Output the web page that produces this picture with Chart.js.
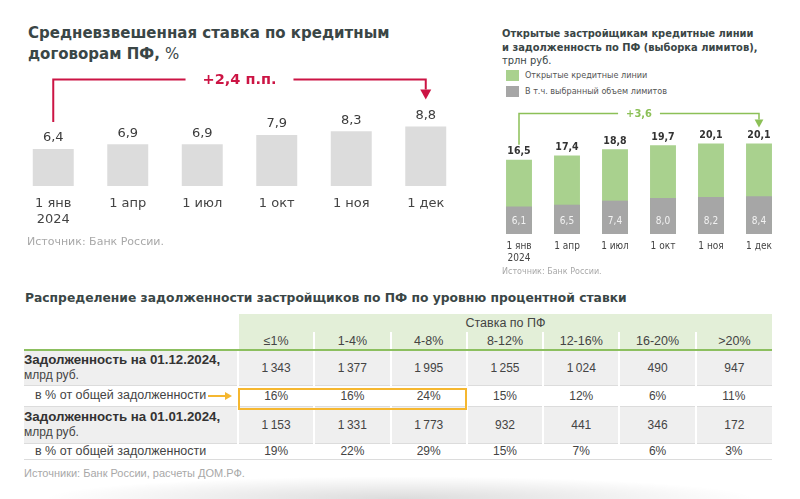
<!DOCTYPE html>
<html lang="ru">
<head>
<meta charset="utf-8">
<script src="https://cdn.jsdelivr.net/npm/chart.js@4.4.1/dist/chart.umd.min.js"></script>
<style>
  body { margin: 0; background: #fff; width: 800px; height: 499px; overflow: hidden; position: relative; font-family: "DejaVu Sans", sans-serif; }
  .abs { position: absolute; }
  .title { color: #3a4646; font-weight: bold; }
  #leftTitle { left: 28px; top: 23px; font-size: 15px; line-height: 21px; }
  #rightTitle { left: 502px; top: 27px; font-size: 11px; line-height: 13.5px; font-family: "DejaVu Sans Condensed", "DejaVu Sans", sans-serif; }
  #rightTitle span, #leftTitle span { font-weight: normal; }
  #legend { left: 506px; top: 67px; font-size: 9px; color: #555; font-family: "DejaVu Sans Condensed", "DejaVu Sans", sans-serif; }
  #legend div { display: flex; align-items: center; height: 16px; }
  #legend i { display: inline-block; width: 13px; height: 11px; margin-right: 6px; }
  .src { color: #a8a8a8; }
  #srcLeft { left: 27px; top: 235px; font-size: 11px; }
  #srcRight { left: 502px; top: 267px; font-size: 8px; }
  #tblTitle { left: 25px; top: 291px; font-size: 12.3px; }
  #srcTbl { left: 24px; top: 467px; font-size: 11px; font-family: "Liberation Sans", Arial, sans-serif; }
  #tbl { position: absolute; left: 24px; top: 314px; width: 748px; border-collapse: collapse; table-layout: fixed;
         font-family: "Liberation Sans", Arial, sans-serif; font-size: 12px; color: #444; }
  #tbl td { padding: 0; text-align: center; vertical-align: middle; white-space: nowrap; }
  #tbl .g { background: #e3efd8; border-left: 2px solid #fff; font-size: 12.5px; }
  #tbl tr.h2 td { border-bottom: 2px solid #8cbf5f; }
  #tbl tr.gray td { background: #efefef; border-left: 2px solid #fff; border-bottom: 1px solid #dcdcdc; }
  #tbl tr.gray td.lab { border-left: none; }
  #tbl tr.white td { border-bottom: 1px solid #dcdcdc; }
  #tbl td.lab { text-align: left; color: #333; }
  #tbl td.lab b { font-size: 13.3px; }
  #tbl td.lab small { font-size: 12px; color: #444; }
  #tbl td.share { font-size: 12.5px; padding-left: 11px; color: #444; }
  #hl { left: 238px; top: 388px; width: 229px; height: 22px; border: 2px solid #f5b730; box-sizing: border-box; }
  #shadow { left: 40px; top: 476px; width: 720px; height: 23px;
            background: radial-gradient(ellipse at 50% 100%, rgba(0,0,0,0.14), rgba(0,0,0,0) 70%); }
</style>
</head>
<body>

<div id="leftTitle" class="abs title">Средневзвешенная ставка по кредитным<br>договорам ПФ, <span>%</span></div>
<div class="abs" style="left:0;top:0;width:480px;height:240px"><canvas id="rateChart" width="480" height="240"></canvas></div>
<div id="srcLeft" class="abs src">Источник: Банк России.</div>

<div id="rightTitle" class="abs title">Открытые застройщикам кредитные линии<br>и задолженность по ПФ (выборка лимитов),<br><span>трлн руб.</span></div>
<div id="legend" class="abs"></div>
<div class="abs" style="left:480px;top:0;width:320px;height:280px"><canvas id="linesChart" width="320" height="280"></canvas></div>
<div id="srcRight" class="abs src">Источник: Банк России.</div>

<div id="tblTitle" class="abs title">Распределение задолженности застройщиков по ПФ по уровню процентной ставки</div>
<table id="tbl"></table>
<div id="hl" class="abs"></div>
<div id="srcTbl" class="abs src">Источники: Банк России, расчеты ДОМ.РФ.</div>
<div id="shadow" class="abs"></div>

<script>
// ----- data -----
const months = [['1 янв', '2024'], '1 апр', '1 июл', '1 окт', '1 ноя', '1 дек'];
const rateValues = [6.4, 6.9, 6.9, 7.9, 8.3, 8.8];           // %
const openLines = [16.5, 17.4, 18.8, 19.7, 20.1, 20.1];      // трлн руб.
const usedLimits = [6.1, 6.5, 7.4, 8.0, 8.2, 8.4];           // трлн руб.
const seriesNames = ['Открытые кредитные линии', 'В т.ч. выбранный объем лимитов'];

const rateBuckets = ['≤1%', '1-4%', '4-8%', '8-12%', '12-16%', '16-20%', '>20%'];
const debtDec = [1343, 1377, 1995, 1255, 1024, 490, 947];    // млрд руб.
const shareDec = [16, 16, 24, 15, 12, 6, 11];                // %
const debtJan = [1153, 1331, 1773, 932, 441, 346, 172];
const shareJan = [19, 22, 29, 15, 7, 6, 3];

const RED = '#cc1444';
const GREEN = '#a9d18e';
const GREEN_DARK = '#8cc057';
const GRAY = '#a6a6a6';
const COND = '"DejaVu Sans Condensed", "DejaVu Sans"';

const fmt = v => v.toFixed(1).replace('.', ',');
const fmtInt = v => String(v).replace(/\B(?=(\d{3})+(?!\d))/g, '\u2009');

// bracket with arrow from first bar to last bar
function drawBracket(chart, o) {
    const ctx = chart.ctx;
    const bars = chart.getDatasetMeta(0).data;
    const a = bars[0], b = bars[bars.length - 1];
    const yTop = Math.min(a.y, b.y) - o.lift;
    ctx.save();
    ctx.strokeStyle = o.color;
    ctx.fillStyle = o.color;
    ctx.lineWidth = o.width;
    ctx.font = o.font;
    const mid = (a.x + b.x) / 2;
    const half = ctx.measureText(o.text).width / 2 + o.gap;
    ctx.beginPath();
    ctx.moveTo(a.x, a.y - o.startOff);
    ctx.lineTo(a.x, yTop);
    ctx.lineTo(mid - half, yTop);
    ctx.moveTo(mid + half, yTop);
    ctx.lineTo(b.x, yTop);
    const tip = b.y - o.endOff;
    ctx.lineTo(b.x, tip - o.head);
    ctx.stroke();
    ctx.beginPath();
    ctx.moveTo(b.x - o.head * 0.55, tip - o.head);
    ctx.lineTo(b.x + o.head * 0.55, tip - o.head);
    ctx.lineTo(b.x, tip);
    ctx.closePath();
    ctx.fill();
    ctx.textAlign = 'center';
    ctx.textBaseline = 'middle';
    ctx.fillText(o.text, mid, yTop + 1);
    ctx.restore();
}

// ----- left chart: weighted average rate -----
const rateLabelsPlugin = {
    id: 'rateLabels',
    afterDatasetsDraw(chart) {
        const ctx = chart.ctx;
        ctx.save();
        ctx.font = '13px "DejaVu Sans"';
        ctx.fillStyle = '#3c3c3c';
        ctx.textAlign = 'center';
        ctx.textBaseline = 'middle';
        chart.getDatasetMeta(0).data.forEach((bar, i) => {
            ctx.fillText(fmt(rateValues[i]), bar.x, bar.y - 11);
        });
        ctx.restore();
        const diff = rateValues[rateValues.length - 1] - rateValues[0];
        drawBracket(chart, {
            color: RED, width: 2, font: 'bold 14.5px "DejaVu Sans"',
            text: '+' + fmt(diff) + ' п.п.', gap: 17, lift: 47,
            startOff: 27, endOff: 27, head: 10
        });
    }
};

new Chart(document.getElementById('rateChart'), {
    type: 'bar',
    data: {
        labels: months,
        datasets: [{ data: rateValues, backgroundColor: '#dcdcdc', barPercentage: 0.55, categoryPercentage: 1 }]
    },
    options: {
        responsive: false,
        animation: false,
        layout: { padding: { top: 100, left: 16, right: 17, bottom: 2 } },
        plugins: { legend: { display: false }, tooltip: { enabled: false } },
        scales: {
            y: { display: false, min: 2.45, max: 11.64 },
            x: {
                grid: { display: false, drawTicks: false }, border: { display: false },
                ticks: { color: '#444', padding: 10, font: { family: 'DejaVu Sans', size: 13, lineHeight: '16px' } }
            }
        }
    },
    plugins: [rateLabelsPlugin]
});

// ----- right chart: credit lines vs used limits -----
document.getElementById('legend').innerHTML =
    '<div><i style="background:' + GREEN + '"></i>' + seriesNames[0] + '</div>' +
    '<div><i style="background:' + GRAY + '"></i>' + seriesNames[1] + '</div>';

const linesLabelsPlugin = {
    id: 'linesLabels',
    afterDatasetsDraw(chart) {
        const ctx = chart.ctx;
        const base = chart.scales.y.getPixelForValue(0);
        ctx.save();
        ctx.textAlign = 'center';
        ctx.textBaseline = 'middle';
        ctx.font = 'bold 10.5px ' + COND;
        ctx.fillStyle = '#333';
        chart.getDatasetMeta(0).data.forEach((bar, i) => {
            ctx.fillText(fmt(openLines[i]), bar.x, bar.y - 8);
        });
        ctx.font = '10px ' + COND;
        ctx.fillStyle = '#f2f2f2';
        chart.getDatasetMeta(1).data.forEach((bar, i) => {
            ctx.fillText(fmt(usedLimits[i]), bar.x, base - 13);
        });
        ctx.restore();
        const diff = openLines[openLines.length - 1] - openLines[0];
        drawBracket(chart, {
            color: GREEN_DARK, width: 1.5, font: 'bold 11px ' + COND,
            text: '+' + fmt(diff), gap: 8, lift: 30,
            startOff: 15, endOff: 16, head: 8
        });
    }
};

new Chart(document.getElementById('linesChart'), {
    type: 'bar',
    data: {
        labels: months,
        datasets: [
            { label: seriesNames[0], data: openLines, backgroundColor: GREEN, order: 2, barPercentage: 0.54, categoryPercentage: 1 },
            { label: seriesNames[1], data: usedLimits, backgroundColor: GRAY, order: 1, barPercentage: 0.54, categoryPercentage: 1 }
        ]
    },
    options: {
        responsive: false,
        animation: false,
        layout: { padding: { top: 120, left: 15, right: 17, bottom: 10 } },
        plugins: { legend: { display: false }, tooltip: { enabled: false } },
        scales: {
            y: { display: false, min: 0, max: 25.3, stacked: false },
            x: {
                stacked: true,
                grid: { display: false, drawTicks: false }, border: { display: false },
                ticks: { color: '#444', padding: 6, font: { family: COND, size: 10, lineHeight: '12px' } }
            }
        }
    },
    plugins: [linesLabelsPlugin]
});

// ----- table -----
const tbl = document.getElementById('tbl');
let html = '<colgroup><col style="width:214px">' + rateBuckets.map(() => '<col>').join('') + '</colgroup>';
html += '<tr style="height:18px"><td></td><td class="g" colspan="' + rateBuckets.length + '" style="color:#444">Ставка по ПФ</td></tr>';
html += '<tr class="h2" style="height:18px"><td></td>' + rateBuckets.map(b => '<td class="g">' + b + '</td>').join('') + '</tr>';
const rows = [
    { cls: 'gray', h: 35, lab: '<b>Задолженность на 01.12.2024,</b><br><small>млрд руб.</small>', vals: debtDec.map(fmtInt) },
    { cls: 'white', h: 21, lab: 'в % от общей задолженности', share: true, vals: shareDec.map(v => v + '%') },
    { cls: 'gray', h: 37, lab: '<b>Задолженность на 01.01.2024,</b><br><small>млрд руб.</small>', vals: debtJan.map(fmtInt) },
    { cls: 'white', h: 15, lab: 'в % от общей задолженности', share: true, vals: shareJan.map(v => v + '%') }
];
rows.forEach((r, k) => {
    let arrow = '';
    if (k === 1) {
        arrow = '<svg width="26" height="10" style="position:absolute;right:4px;top:5px"><line x1="0" y1="5" x2="18" y2="5" stroke="#f5b730" stroke-width="2"/><polygon points="17,1 24,5 17,9" fill="#f5b730"/></svg>';
    }
    html += '<tr class="' + r.cls + '" style="height:' + r.h + 'px"><td class="lab' + (r.share ? ' share' : '') +
        '" style="line-height:15px;position:relative">' + r.lab + arrow + '</td>' +
        r.vals.map(v => '<td>' + v + '</td>').join('') + '</tr>';
});
tbl.innerHTML = html;
</script>
</body>
</html>
